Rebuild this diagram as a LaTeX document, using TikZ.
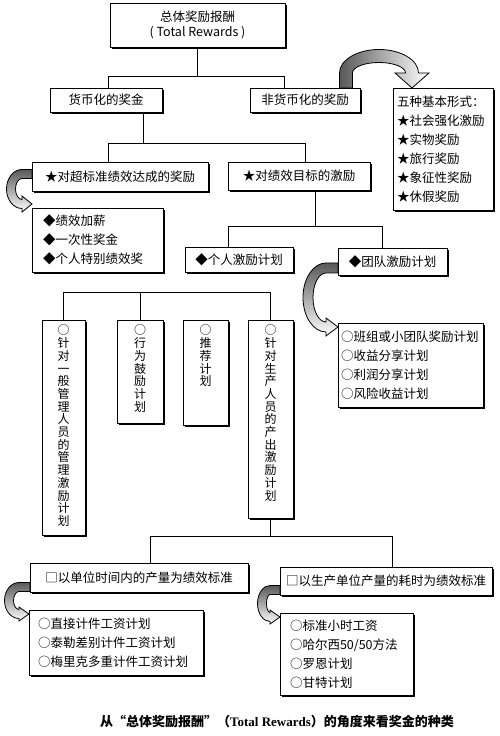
\documentclass[tikz,border=0pt]{standalone}
\usepackage{fontspec}
\setmainfont{Noto Sans CJK SC}
\newfontfamily\latinfont{Liberation Serif}
\usetikzlibrary{shadows}

\tikzset{
  box/.style={draw, line width=0.9pt, fill=white, inner sep=3pt,
    drop shadow={shadow xshift=1.6pt, shadow yshift=-1.6pt, fill=black, opacity=1},
    font=\fontsize{12.5}{19}\selectfont},
  listbox/.style={box, align=left},
  colbox/.style={box, inner sep=0pt},
  link/.style={line width=0.8pt},
  band/.style={draw, line width=0.8pt, top color=black!65, middle color=black!25, bottom color=white}
}
% curved block arrow: [shading]{transform}{a}{b}{start}{width}{head length}{head width}
\newcommand{\bandarrow}[8][]{%
  \begin{scope}[#2]
    \shadedraw[band,#1] (#5,{#4+#6/2}) -- (0,{#4+#6/2})
      arc[start angle=90, end angle=270, x radius=#3pt+#6pt/2, y radius=#4pt+#6pt/2]
      -- (0,{-#4-#8/2}) -- (#7,-#4) -- (0,{-#4+#8/2}) -- (0,{-#4+#6/2})
      arc[start angle=270, end angle=90, x radius=#3pt-#6pt/2, y radius=#4pt-#6pt/2]
      -- (#5,{#4-#6/2}) -- cycle;
  \end{scope}}
% vertical text column
\newcommand{\vcol}[2]{\parbox[c][#1][t]{14pt}{\centering\fontsize{12}{12.7}\selectfont\vspace*{5pt}#2}}

\begin{document}
\begin{tikzpicture}[x=1pt, y=1pt]
  \useasboundingbox (0,0) rectangle (500,736);

  % top levels
  \node[box, minimum width=175pt, minimum height=44pt, align=center] (top) at (197.5,711) {总体奖励报酬\\[-4pt]( Total Rewards )};
  \node[box, minimum width=112pt, minimum height=24pt] (money) at (106,636) {货币化的奖金};
  \node[box, minimum width=110pt, minimum height=24pt] (nonmoney) at (305,636) {非货币化的奖励};
  \node[listbox, text width=92pt, inner xsep=4pt, minimum height=122pt] (five) at (443,587)
    {五种基本形式：\\★社会强化激励\\★实物奖励\\★旅行奖励\\★象征性奖励\\★休假奖励};

  % monetary branch
  \node[box, minimum width=176pt, minimum height=29pt] (excess) at (120,559.5) {★对超标准绩效达成的奖励};
  \node[box, minimum width=142pt, minimum height=28pt] (target) at (299,560) {★对绩效目标的激励};
  \node[listbox, text width=109pt, inner xsep=11pt, minimum height=64pt] (excessList) at (97.5,496)
    {◆绩效加薪\\◆一次性奖金\\◆个人特别绩效奖};
  \node[box, minimum width=108pt, minimum height=25pt] (indiv) at (239,476.5) {◆个人激励计划};
  \node[box, minimum width=109pt, minimum height=27pt] (team) at (392.5,474.5) {◆团队激励计划};
  \node[listbox, text width=139pt, inner xsep=3pt, minimum height=84pt] (teamList) at (410.5,371)
    {○班组或小团队奖励计划\\○收益分享计划\\○利润分享计划\\○风险收益计划};

  % individual plans
  \node[colbox, minimum width=43pt] (mgr) at (63.5,308.5)
    {\vcol{215pt}{○\\针\\对\\一\\般\\管\\理\\人\\员\\的\\管\\理\\激\\励\\计\\划}};
  \node[colbox, minimum width=46pt] (behav) at (140,364.5) {\vcol{103pt}{○\\行\\为\\鼓\\励\\计\\划}};
  \node[colbox, minimum width=45pt] (recom) at (205.5,363.5) {\vcol{105pt}{○\\推\\荐\\计\\划}};
  \node[colbox, minimum width=45pt] (prod) at (270.5,317)
    {\vcol{198pt}{○\\针\\对\\生\\产\\人\\员\\的\\产\\出\\激\\励\\计\\划}};

  % production standards
  \node[box, minimum width=218pt, minimum height=29pt] (unitTime) at (139,158.5) {□以单位时间内的产量为绩效标准};
  \node[box, minimum width=212pt, minimum height=28pt] (unitCost) at (386,155) {□以生产单位产量的耗时为绩效标准};
  \node[listbox, text width=156pt, inner xsep=9pt, minimum height=65pt] (timeList) at (116,93.5)
    {○直接计件工资计划\\○泰勒差别计件工资计划\\○梅里克多重计件工资计划};
  \node[listbox, text width=113pt, inner xsep=10pt, minimum height=82pt] (costList) at (346.5,82)
    {○标准小时工资\\○哈尔西50/50方法\\○罗恩计划\\○甘特计划};

  % connectors
  \draw[link] (top.south) -- ++(0,-30);
  \draw[link] ([xshift=2pt]money.north) -- ++(0,11) -| ([xshift=-21pt]nonmoney.north);
  \draw[link] ([xshift=37pt]money.south) -- ++(0,-32);
  \draw[link] ([xshift=-12pt]excess.north) -- ++(0,18) -| ([xshift=6pt]target.north);
  \draw[link] ([xshift=16pt]target.south) -- ++(0,-37);
  \draw[link] ([xshift=-11pt]indiv.north) -- ++(0,20) -| ([xshift=-10.5pt]team.north);
  \draw[link] (mgr.north) -- ++(0,27) -| (prod.north);
  \draw[link] (behav.north) -- ++(0,27);
  \draw[link] (prod.south) -- ++(0,-19);
  \draw[link] ([xshift=11pt]unitTime.north) -- ++(0,26) -| ([xshift=6pt]unitCost.north);

  % curved arrows
  \bandarrow[left color=black!65, middle color=black!25, right color=white]{cm={0,-1,-1,0,(379,663)}}{17}{33}{15}{13}{15}{34}
  \bandarrow{shift={(22,547)}}{11}{15}{10}{9}{10}{16}
  \bandarrow{shift={(326,438.5)}}{18}{29.5}{12}{10}{12}{18}
  \bandarrow{shift={(19,135.5)}}{10}{13.5}{11}{9}{10}{14}
  \bandarrow{shift={(270,132.5)}}{8}{13.5}{10}{9}{10}{14}

  % caption
  \node[font=\fontsize{13}{15}\selectfont\bfseries] (caption) at (277,14)
    {从“总体奖励报酬”（{\latinfont Total Rewards}）的角度来看奖金的种类};
\end{tikzpicture}
\end{document}
